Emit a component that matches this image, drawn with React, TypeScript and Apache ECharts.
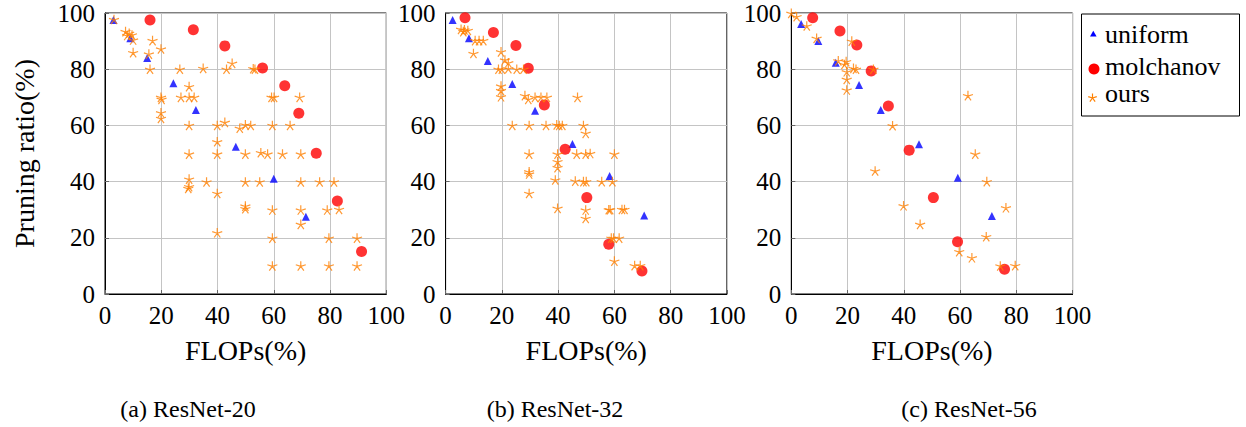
import React, { useEffect, useRef } from "react";
import * as echarts from "echarts";

const CAPTIONS = ["(a) ResNet-20", "(b) ResNet-32", "(c) ResNet-56"];
const SERIES_NAMES = ["uniform", "molchanov", "ours"];
const X_NAME = "FLOPs(%)";
const Y_NAME = "Pruning ratio(%)";
const AXIS_MIN = 0;
const AXIS_MAX = 100;
const AXIS_STEP = 20;

// ResNet-20
const r20Uniform = [
  [3, 97.5], [9, 91], [15, 84], [24.3, 75], [32.3, 65.5], [46.5, 52.4], [60, 41], [71.4, 27.5],
];
const r20Molchanov = [
  [16, 97.5], [31.4, 94], [42.6, 88.3], [56, 80.4], [63.9, 74.1], [68.9, 64.3], [75.1, 50.1], [82.6, 33.1], [91.2, 15.1],
];
const r20Ours = [
  [3.2, 97.7], [7.3, 93.4], [8.6, 92.8], [9.6, 92.2], [7.9, 92], [10, 90.4],
  [16.9, 90.2], [19.9, 87.2], [10, 85.9], [15.6, 85.4],
  [16, 80], [26.6, 80], [34.9, 80.3], [43.2, 80], [45.2, 82.1], [52.7, 80.2], [53.3, 80],
  [29.9, 73.8], [19.9, 70], [20.1, 69.3], [27, 70], [29.9, 70], [31.7, 70], [59.2, 70], [60.1, 70], [69.2, 70],
  [19.9, 64.5], [19.9, 62.5], [29.9, 60], [39.9, 60], [42.6, 61.1], [47.9, 59], [49.9, 60.2], [51.8, 60], [59.5, 60], [65.8, 60],
  [39.9, 54.2], [29.9, 49.8], [39.9, 49.8], [49.9, 49.8], [55.4, 50.3], [57.8, 49.8], [63.1, 49.8], [69.6, 49.8],
  [29.9, 40.9], [29.9, 38.2], [29.6, 37.6], [36.1, 39.9], [39.9, 35.8], [49.9, 39.9], [55, 39.9], [69.6, 39.9], [76.3, 39.9], [81.4, 39.9],
  [49.9, 31.3], [49.9, 30.4], [59.5, 29.9], [69.6, 29.9], [79, 29.9], [83.2, 30.1], [69.6, 24.8],
  [39.9, 21.8], [59.5, 19.9], [79.6, 19.9], [89.6, 19.9],
  [59.5, 10], [69.6, 10], [79.6, 10], [89.6, 10],
];

// ResNet-32
const r32Uniform = [
  [2.5, 97.5], [8.3, 91], [15, 82.9], [23.7, 74.7], [31.8, 65.2], [45.1, 53.4], [58.3, 42], [70.6, 27.9],
];
const r32Molchanov = [
  [6.9, 98.3], [17, 93.1], [25, 88.4], [29.4, 80.3], [35.1, 67.3], [42.5, 51.5], [50.2, 34.3], [58, 17.7], [69.8, 8.2],
];
const r32Ours = [
  [5.5, 94.2], [6.7, 94], [7.9, 93.8], [6.3, 93.4],
  [10.5, 90.2], [11.9, 90.2], [13.4, 90.2], [9.9, 85.6], [19.7, 86.2], [21.1, 83.3], [22.3, 82.3],
  [18.8, 80], [20, 80], [22.3, 80.2], [25.3, 80], [27.7, 80],
  [19.7, 74], [19.7, 72.4], [19.7, 70.2], [28.2, 70.6], [29.4, 69.3], [31.8, 70], [33.9, 70], [36, 70], [46.9, 70],
  [23.7, 60], [29.7, 60], [35.7, 60], [39.5, 60.2], [40.4, 60], [41.5, 60], [49, 60], [49.8, 57.2],
  [29.7, 49.8], [39.8, 49.8], [39.8, 47.1], [39.8, 45], [46.6, 49.8], [49.8, 49.8], [51.4, 50], [60, 49.8],
  [29.7, 43.5], [29.7, 42.7], [39, 40.6], [46.1, 40.2], [49, 40], [50, 40], [55.5, 40], [59.3, 40],
  [29.7, 35.8], [39.8, 30.5], [49.8, 29.9], [49.8, 26.9], [58, 30], [58.5, 30], [62.7, 30.1], [63.6, 30.1],
  [58.9, 19.9], [59.7, 19.9], [61.7, 19.9], [60, 11.7], [67.2, 10.1], [69.2, 10.1],
];

// ResNet-56
const r56Uniform = [
  [3.5, 96.1], [9.6, 90], [15.8, 82.3], [24.1, 74.4], [31.8, 65.5], [45.4, 53.3], [59.2, 41.4], [71.3, 27.8],
];
const r56Molchanov = [
  [7.6, 98.3], [17.3, 93.6], [23.3, 88.6], [28.4, 79.4], [34.5, 66.9], [41.9, 51.2], [50.5, 34.3], [59.1, 18.6], [75.8, 8.8],
];
const r56Ours = [
  [0, 99.9], [1.9, 98.7], [5.5, 95.4], [9, 91], [21.5, 90],
  [16.7, 83], [19.5, 82.7], [18.9, 81.7], [19.7, 79.1], [22.1, 80.3], [23, 80], [29.2, 80],
  [19.7, 76.4], [19.7, 72.6], [62.8, 70.6], [36, 59.9], [65.4, 49.8], [29.8, 43.8], [69.5, 40],
  [39.9, 31.4], [76.3, 30.7], [45.8, 24.8], [69.3, 20.4], [59.7, 15.1], [64.2, 12.9], [74.3, 10], [79.6, 10.1],
];

const PANEL_DATA = [
  [r20Uniform, r20Molchanov, r20Ours],
  [r32Uniform, r32Molchanov, r32Ours],
  [r56Uniform, r56Molchanov, r56Ours],
];

const FONT = "Liberation Serif";
const BLUE = "#0000ff";
const RED = "#ff0000";
const ORANGE = "#ff8000";
const STAR_PATH =
  "path://M0 -1L0 0M-0.951 -0.309L0 0M-0.588 0.809L0 0M0.588 0.809L0 0M0.951 -0.309L0 0";

const GRID_LEFTS = [105, 445.6, 791.3];
const GRID_TOP = 13;
const GRID_W = 281.3;
const GRID_H = 281;
const CAPTION_X = [188, 555, 969];

function starLines(cx: number, cy: number, r: number) {
  const out: any[] = [];
  for (let k = 0; k < 5; k++) {
    const a = -Math.PI / 2 + (k * 2 * Math.PI) / 5;
    out.push({
      type: "line",
      shape: { x1: cx, y1: cy, x2: cx + r * Math.cos(a), y2: cy + r * Math.sin(a) },
      style: { stroke: ORANGE, lineWidth: 1.2 },
    });
  }
  return out;
}

function textEl(text: string, x: number, y: number, size: number, align: string) {
  return {
    type: "text",
    x,
    y,
    style: {
      text,
      fontFamily: FONT,
      fontSize: size,
      fill: "#000",
      align,
      verticalAlign: "middle",
    },
  };
}

export default function App() {
  const ref = useRef<HTMLDivElement>(null);
  useEffect(() => {
    const chart = echarts.init(ref.current!, null, { renderer: "svg" });
    const grids = GRID_LEFTS.map((left) => ({
      left,
      top: GRID_TOP,
      width: GRID_W,
      height: GRID_H,
      show: true,
      borderColor: "#000",
      borderWidth: 1,
      backgroundColor: "transparent",
    }));
    const common = (i: number) => ({
      gridIndex: i,
      type: "value",
      min: AXIS_MIN,
      max: AXIS_MAX,
      interval: AXIS_STEP,
      axisLine: { show: true, lineStyle: { color: "#000", width: 1 } },
      axisTick: { show: true, inside: true, length: 4, lineStyle: { color: "#666" } },
      splitLine: { show: true, lineStyle: { color: "#c4c4c4", width: 1 } },
    });
    const xAxes = GRID_LEFTS.map((_, i) => ({
      ...common(i),
      name: X_NAME,
      nameLocation: "middle",
      nameGap: 42,
      nameTextStyle: { fontSize: 28, fontFamily: FONT, color: "#000" },
      axisLabel: { fontSize: 25, fontFamily: FONT, color: "#000", margin: 9 },
    }));
    const yAxes = GRID_LEFTS.map((_, i) => ({
      ...common(i),
      name: i === 0 ? Y_NAME : "",
      nameLocation: "middle",
      nameGap: 67,
      nameRotate: 90,
      nameTextStyle: { fontSize: 28, fontFamily: FONT, color: "#000" },
      axisLabel: { fontSize: 25, fontFamily: FONT, color: "#000", margin: 10 },
    }));
    const series: any[] = [];
    PANEL_DATA.forEach((sets, i) => {
      series.push({
        name: SERIES_NAMES[0],
        type: "scatter",
        xAxisIndex: i,
        yAxisIndex: i,
        data: sets[0],
        symbol: "triangle",
        symbolSize: 8,
        itemStyle: { color: BLUE },
      });
      series.push({
        name: SERIES_NAMES[1],
        type: "scatter",
        xAxisIndex: i,
        yAxisIndex: i,
        data: sets[1],
        symbol: "circle",
        symbolSize: 11,
        itemStyle: { color: RED },
      });
      series.push({
        name: SERIES_NAMES[2],
        type: "scatter",
        xAxisIndex: i,
        yAxisIndex: i,
        data: sets[2],
        symbol: STAR_PATH,
        symbolSize: 10,
        symbolKeepAspect: true,
        itemStyle: { color: "transparent", borderColor: ORANGE, borderWidth: 1.2 },
      });
    });

    const graphic: any[] = [
      {
        type: "rect",
        shape: { x: 1081.5, y: 14, width: 158, height: 102 },
        style: { fill: "#fff", stroke: "#000", lineWidth: 1 },
      },
      {
        type: "polygon",
        shape: { points: [[1093.3, 30.8], [1090, 36.4], [1096.6, 36.4]] },
        style: { fill: BLUE },
      },
      { type: "circle", shape: { cx: 1094, cy: 69, r: 5.5 }, style: { fill: RED } },
      ...starLines(1092.5, 98, 4.5),
      textEl(SERIES_NAMES[0], 1105, 34.5, 26, "left"),
      textEl(SERIES_NAMES[1], 1105, 66, 26, "left"),
      textEl(SERIES_NAMES[2], 1105, 93, 26, "left"),
      ...CAPTIONS.map((c, i) => textEl(c, CAPTION_X[i], 409, 24, "center")),
    ];

    chart.setOption({
      animation: false,
      backgroundColor: "#fff",
      textStyle: { fontFamily: FONT },
      grid: grids,
      xAxis: xAxes,
      yAxis: yAxes,
      series,
      graphic,
    });
    return () => chart.dispose();
  }, []);
  return (
    <div
      ref={ref}
      style={{ position: "fixed", left: 0, top: 0, width: 1246, height: 427, background: "#fff" }}
    />
  );
}
